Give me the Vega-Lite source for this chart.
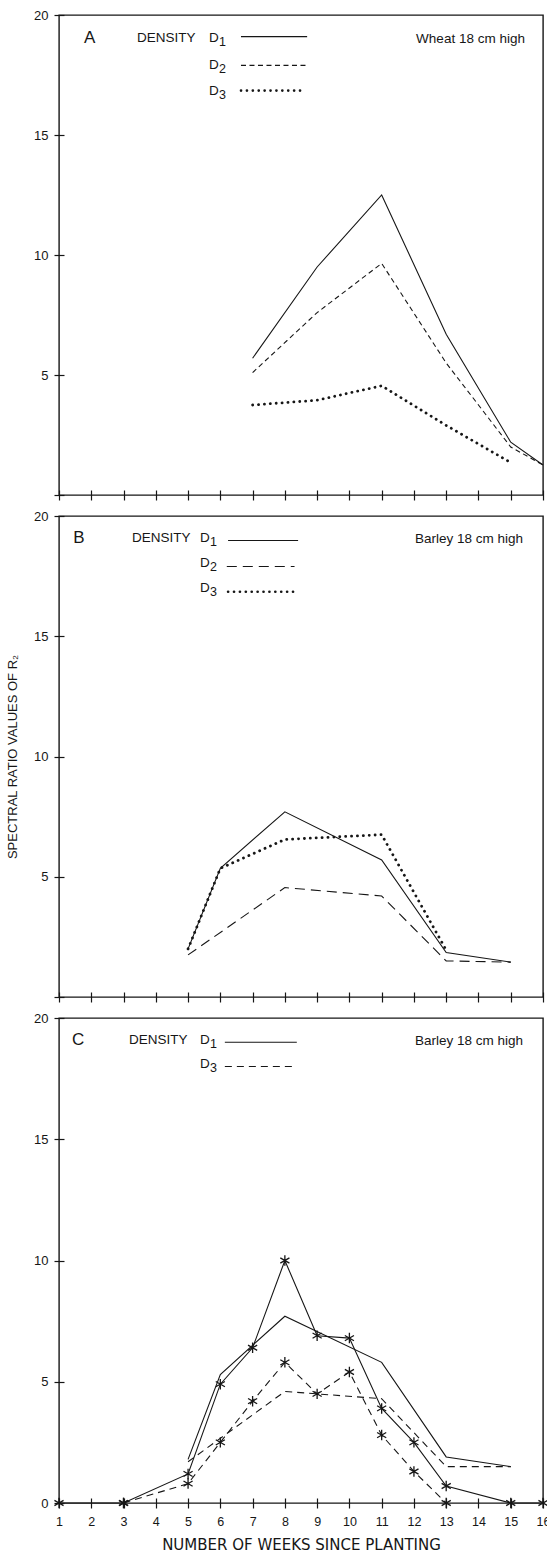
{
  "$schema": "https://vega.github.io/schema/vega-lite/v6.json",
  "background": "white",
  "padding": {"left": 5, "top": 8, "right": 0, "bottom": 0},
  "bounds": "flush",
  "spacing": 21,
  "config": {
    "font": "Liberation Sans",
    "view": {"stroke": "#161616", "strokeWidth": 1.4},
    "axis": {
      "domain": false, "grid": false, "offset": -5, "tickSize": 10, "tickColor": "#161616", "tickWidth": 1.2,
      "labelColor": "#161616", "labelFontSize": 13, "labelFont": "Liberation Sans", "labelOverlap": false,
      "titleColor": "#161616", "titleFont": "Liberation Sans", "titleFontWeight": "normal"
    },
    "text": {"color": "#161616", "font": "Liberation Sans"},
    "line": {"color": "#161616"},
    "rule": {"color": "#161616"}
  },
  "resolve": {"scale": {"x": "independent", "y": "independent"}},
  "datasets": {
    "wheat": [
      {"density": "D1", "week": 7, "value": 5.7}, {"density": "D1", "week": 9, "value": 9.5}, {"density": "D1", "week": 11, "value": 12.5}, {"density": "D1", "week": 13, "value": 6.7}, {"density": "D1", "week": 15, "value": 2.2}, {"density": "D1", "week": 16, "value": 1.25},
      {"density": "D2", "week": 7, "value": 5.1}, {"density": "D2", "week": 9, "value": 7.6}, {"density": "D2", "week": 11, "value": 9.65}, {"density": "D2", "week": 13, "value": 5.5}, {"density": "D2", "week": 15, "value": 2.0}, {"density": "D2", "week": 16, "value": 1.25},
      {"density": "D3", "week": 7, "value": 3.75}, {"density": "D3", "week": 9, "value": 3.95}, {"density": "D3", "week": 11, "value": 4.55}, {"density": "D3", "week": 13, "value": 2.9}, {"density": "D3", "week": 15, "value": 1.35}
    ],
    "barley": [
      {"density": "D1", "week": 5, "value": 2.0}, {"density": "D1", "week": 6, "value": 5.35}, {"density": "D1", "week": 8, "value": 7.7}, {"density": "D1", "week": 11, "value": 5.7}, {"density": "D1", "week": 13, "value": 1.85}, {"density": "D1", "week": 15, "value": 1.45},
      {"density": "D2", "week": 5, "value": 1.75}, {"density": "D2", "week": 8, "value": 4.55}, {"density": "D2", "week": 11, "value": 4.2}, {"density": "D2", "week": 13, "value": 1.5}, {"density": "D2", "week": 15, "value": 1.45},
      {"density": "D3", "week": 5, "value": 2.0}, {"density": "D3", "week": 6, "value": 5.35}, {"density": "D3", "week": 8, "value": 6.55}, {"density": "D3", "week": 11, "value": 6.75}, {"density": "D3", "week": 13, "value": 1.95}
    ],
    "barleyC": [
      {"density": "D1", "obs": "mean", "week": 5, "value": 1.8}, {"density": "D1", "obs": "mean", "week": 6, "value": 5.3}, {"density": "D1", "obs": "mean", "week": 8, "value": 7.7}, {"density": "D1", "obs": "mean", "week": 11, "value": 5.8}, {"density": "D1", "obs": "mean", "week": 13, "value": 1.9}, {"density": "D1", "obs": "mean", "week": 15, "value": 1.5},
      {"density": "D3", "obs": "mean", "week": 5, "value": 1.7}, {"density": "D3", "obs": "mean", "week": 8, "value": 4.6}, {"density": "D3", "obs": "mean", "week": 11, "value": 4.3}, {"density": "D3", "obs": "mean", "week": 13, "value": 1.5}, {"density": "D3", "obs": "mean", "week": 15, "value": 1.5},
      {"density": "D1", "obs": "plot", "week": 1, "value": 0}, {"density": "D1", "obs": "plot", "week": 3, "value": 0}, {"density": "D1", "obs": "plot", "week": 5, "value": 1.2}, {"density": "D1", "obs": "plot", "week": 6, "value": 4.9}, {"density": "D1", "obs": "plot", "week": 7, "value": 6.4}, {"density": "D1", "obs": "plot", "week": 8, "value": 10.0}, {"density": "D1", "obs": "plot", "week": 9, "value": 6.9}, {"density": "D1", "obs": "plot", "week": 10, "value": 6.8}, {"density": "D1", "obs": "plot", "week": 11, "value": 3.9}, {"density": "D1", "obs": "plot", "week": 12, "value": 2.5}, {"density": "D1", "obs": "plot", "week": 13, "value": 0.7}, {"density": "D1", "obs": "plot", "week": 15, "value": 0}, {"density": "D1", "obs": "plot", "week": 16, "value": 0},
      {"density": "D3", "obs": "plot", "week": 3, "value": 0}, {"density": "D3", "obs": "plot", "week": 5, "value": 0.8}, {"density": "D3", "obs": "plot", "week": 6, "value": 2.5}, {"density": "D3", "obs": "plot", "week": 7, "value": 4.2}, {"density": "D3", "obs": "plot", "week": 8, "value": 5.8}, {"density": "D3", "obs": "plot", "week": 9, "value": 4.5}, {"density": "D3", "obs": "plot", "week": 10, "value": 5.4}, {"density": "D3", "obs": "plot", "week": 11, "value": 2.8}, {"density": "D3", "obs": "plot", "week": 12, "value": 1.3}, {"density": "D3", "obs": "plot", "week": 13, "value": 0}
    ]
  },
  "vconcat": [
    {
      "width": 484, "height": 480,
      "layer": [
        {
          "data": {"name": "wheat"},
          "transform": [{"filter": "datum.density == 'D1'"}],
          "mark": {"type": "line", "strokeWidth": 1.1},
          "encoding": {
            "x": {"field": "week", "type": "quantitative", "scale": {"domain": [1, 16], "nice": false, "zero": false}, "axis": {"values": [1,2,3,4,5,6,7,8,9,10,11,12,13,14,15,16], "tickCount": 20, "labels": false, "title": null}},
            "y": {"field": "value", "type": "quantitative", "scale": {"domain": [0, 20], "nice": false}, "axis": {"values": [0,5,10,15,20], "labelExpr": "datum.value == 0 ? '' : datum.label", "labelPadding": 6, "title": null}}
          }
        },
        {
          "data": {"name": "wheat"},
          "transform": [{"filter": "datum.density == 'D2'"}],
          "mark": {"type": "line", "strokeWidth": 1.1, "strokeDash": [5, 3.5]},
          "encoding": {"x": {"field": "week", "type": "quantitative"}, "y": {"field": "value", "type": "quantitative"}}
        },
        {
          "data": {"name": "wheat"},
          "transform": [{"filter": "datum.density == 'D3'"}],
          "mark": {"type": "line", "strokeWidth": 2.8, "strokeDash": [0.1, 5.8], "strokeCap": "round"},
          "encoding": {"x": {"field": "week", "type": "quantitative"}, "y": {"field": "value", "type": "quantitative"}}
        },
        {"data": {"values": [{}]}, "mark": {"type": "text", "text": "A", "fontSize": 17, "align": "center", "baseline": "middle"}, "encoding": {"x": {"datum": 1.95, "type": "quantitative"}, "y": {"datum": 19.05, "type": "quantitative"}}},
        {"data": {"values": [{}]}, "mark": {"type": "text", "text": "DENSITY", "fontSize": 13.5, "align": "left", "baseline": "middle"}, "encoding": {"x": {"datum": 3.42, "type": "quantitative"}, "y": {"datum": 19.05, "type": "quantitative"}}},
        {"data": {"values": [{}]}, "mark": {"type": "text", "text": "D", "fontSize": 13.5, "align": "left", "baseline": "middle"}, "encoding": {"x": {"datum": 5.65, "type": "quantitative"}, "y": {"datum": 19.05, "type": "quantitative"}}},
        {"data": {"values": [{}]}, "mark": {"type": "text", "text": "1", "fontSize": 12.5, "align": "left", "baseline": "middle", "dy": 4}, "encoding": {"x": {"datum": 5.96, "type": "quantitative"}, "y": {"datum": 19.05, "type": "quantitative"}}},
        {"data": {"values": [{}]}, "mark": {"type": "text", "text": "D", "fontSize": 13.5, "align": "left", "baseline": "middle"}, "encoding": {"x": {"datum": 5.65, "type": "quantitative"}, "y": {"datum": 17.9, "type": "quantitative"}}},
        {"data": {"values": [{}]}, "mark": {"type": "text", "text": "2", "fontSize": 12.5, "align": "left", "baseline": "middle", "dy": 4}, "encoding": {"x": {"datum": 5.96, "type": "quantitative"}, "y": {"datum": 17.9, "type": "quantitative"}}},
        {"data": {"values": [{}]}, "mark": {"type": "text", "text": "D", "fontSize": 13.5, "align": "left", "baseline": "middle"}, "encoding": {"x": {"datum": 5.65, "type": "quantitative"}, "y": {"datum": 16.85, "type": "quantitative"}}},
        {"data": {"values": [{}]}, "mark": {"type": "text", "text": "3", "fontSize": 12.5, "align": "left", "baseline": "middle", "dy": 4}, "encoding": {"x": {"datum": 5.96, "type": "quantitative"}, "y": {"datum": 16.85, "type": "quantitative"}}},
        {"data": {"values": [{}]}, "mark": {"type": "rule", "strokeWidth": 1.1}, "encoding": {"x": {"datum": 6.64, "type": "quantitative"}, "x2": {"datum": 8.69}, "y": {"datum": 19.1, "type": "quantitative"}}},
        {"data": {"values": [{}]}, "mark": {"type": "rule", "strokeWidth": 1.1, "strokeDash": [5, 3.5]}, "encoding": {"x": {"datum": 6.64, "type": "quantitative"}, "x2": {"datum": 8.69}, "y": {"datum": 17.9, "type": "quantitative"}}},
        {"data": {"values": [{}]}, "mark": {"type": "rule", "strokeWidth": 2.6, "strokeDash": [0.1, 5.8], "strokeCap": "round"}, "encoding": {"x": {"datum": 6.64, "type": "quantitative"}, "x2": {"datum": 8.6}, "y": {"datum": 16.85, "type": "quantitative"}}},
        {"data": {"values": [{}]}, "mark": {"type": "text", "text": "Wheat  18 cm high", "fontSize": 13.5, "align": "right", "baseline": "middle"}, "encoding": {"x": {"datum": 15.44, "type": "quantitative"}, "y": {"datum": 19.0, "type": "quantitative"}}}
      ]
    },
    {
      "width": 484, "height": 481,
      "layer": [
        {
          "data": {"name": "barley"},
          "transform": [{"filter": "datum.density == 'D1'"}],
          "mark": {"type": "line", "strokeWidth": 1.1},
          "encoding": {
            "x": {"field": "week", "type": "quantitative", "scale": {"domain": [1, 16], "nice": false, "zero": false}, "axis": {"values": [1,2,3,4,5,6,7,8,9,10,11,12,13,14,15,16], "tickCount": 20, "labels": false, "title": null}},
            "y": {"field": "value", "type": "quantitative", "scale": {"domain": [0, 20], "nice": false}, "axis": {"values": [0,5,10,15,20], "labelExpr": "datum.value == 0 ? '' : datum.label", "labelPadding": 6, "title": "SPECTRAL RATIO VALUES OF R₂", "titleFontSize": 13, "titlePadding": 14}}
          }
        },
        {
          "data": {"name": "barley"},
          "transform": [{"filter": "datum.density == 'D2'"}],
          "mark": {"type": "line", "strokeWidth": 1.1, "strokeDash": [10, 6]},
          "encoding": {"x": {"field": "week", "type": "quantitative"}, "y": {"field": "value", "type": "quantitative"}}
        },
        {
          "data": {"name": "barley"},
          "transform": [{"filter": "datum.density == 'D3'"}],
          "mark": {"type": "line", "strokeWidth": 2.8, "strokeDash": [0.1, 5.8], "strokeCap": "round"},
          "encoding": {"x": {"field": "week", "type": "quantitative"}, "y": {"field": "value", "type": "quantitative"}}
        },
        {"data": {"values": [{}]}, "mark": {"type": "text", "text": "B", "fontSize": 17, "align": "center", "baseline": "middle"}, "encoding": {"x": {"datum": 1.62, "type": "quantitative"}, "y": {"datum": 19.1, "type": "quantitative"}}},
        {"data": {"values": [{}]}, "mark": {"type": "text", "text": "DENSITY", "fontSize": 13.5, "align": "left", "baseline": "middle"}, "encoding": {"x": {"datum": 3.26, "type": "quantitative"}, "y": {"datum": 19.1, "type": "quantitative"}}},
        {"data": {"values": [{}]}, "mark": {"type": "text", "text": "D", "fontSize": 13.5, "align": "left", "baseline": "middle"}, "encoding": {"x": {"datum": 5.37, "type": "quantitative"}, "y": {"datum": 19.1, "type": "quantitative"}}},
        {"data": {"values": [{}]}, "mark": {"type": "text", "text": "1", "fontSize": 12.5, "align": "left", "baseline": "middle", "dy": 4}, "encoding": {"x": {"datum": 5.68, "type": "quantitative"}, "y": {"datum": 19.1, "type": "quantitative"}}},
        {"data": {"values": [{}]}, "mark": {"type": "text", "text": "D", "fontSize": 13.5, "align": "left", "baseline": "middle"}, "encoding": {"x": {"datum": 5.37, "type": "quantitative"}, "y": {"datum": 18.05, "type": "quantitative"}}},
        {"data": {"values": [{}]}, "mark": {"type": "text", "text": "2", "fontSize": 12.5, "align": "left", "baseline": "middle", "dy": 4}, "encoding": {"x": {"datum": 5.68, "type": "quantitative"}, "y": {"datum": 18.05, "type": "quantitative"}}},
        {"data": {"values": [{}]}, "mark": {"type": "text", "text": "D", "fontSize": 13.5, "align": "left", "baseline": "middle"}, "encoding": {"x": {"datum": 5.37, "type": "quantitative"}, "y": {"datum": 17.0, "type": "quantitative"}}},
        {"data": {"values": [{}]}, "mark": {"type": "text", "text": "3", "fontSize": 12.5, "align": "left", "baseline": "middle", "dy": 4}, "encoding": {"x": {"datum": 5.68, "type": "quantitative"}, "y": {"datum": 17.0, "type": "quantitative"}}},
        {"data": {"values": [{}]}, "mark": {"type": "rule", "strokeWidth": 1.1}, "encoding": {"x": {"datum": 6.24, "type": "quantitative"}, "x2": {"datum": 8.41}, "y": {"datum": 18.98, "type": "quantitative"}}},
        {"data": {"values": [{}]}, "mark": {"type": "rule", "strokeWidth": 1.1, "strokeDash": [10, 6]}, "encoding": {"x": {"datum": 6.2, "type": "quantitative"}, "x2": {"datum": 8.3}, "y": {"datum": 17.9, "type": "quantitative"}}},
        {"data": {"values": [{}]}, "mark": {"type": "rule", "strokeWidth": 2.6, "strokeDash": [0.1, 5.8], "strokeCap": "round"}, "encoding": {"x": {"datum": 6.24, "type": "quantitative"}, "x2": {"datum": 8.41}, "y": {"datum": 16.85, "type": "quantitative"}}},
        {"data": {"values": [{}]}, "mark": {"type": "text", "text": "Barley  18 cm high", "fontSize": 13.5, "align": "right", "baseline": "middle"}, "encoding": {"x": {"datum": 15.38, "type": "quantitative"}, "y": {"datum": 19.05, "type": "quantitative"}}}
      ]
    },
    {
      "width": 484, "height": 485,
      "layer": [
        {
          "data": {"name": "barleyC"},
          "transform": [{"filter": "datum.density == 'D1'"}],
          "mark": {"type": "line", "strokeWidth": 1.1},
          "encoding": {
            "x": {"field": "week", "type": "quantitative", "scale": {"domain": [1, 16], "nice": false, "zero": false}, "axis": {"values": [1,2,3,4,5,6,7,8,9,10,11,12,13,14,15,16], "tickCount": 20, "labelPadding": 7, "labelFontSize": 12.5, "labelFlush": false, "title": "NUMBER OF WEEKS SINCE PLANTING", "titleFont": "DejaVu Sans", "titleFontSize": 15, "titlePadding": 10}},
            "y": {"field": "value", "type": "quantitative", "scale": {"domain": [0, 20], "nice": false}, "axis": {"values": [0,5,10,15,20], "labelPadding": 6, "title": null}},
            "detail": {"field": "obs"}
          }
        },
        {
          "data": {"name": "barleyC"},
          "transform": [{"filter": "datum.density == 'D3'"}],
          "mark": {"type": "line", "strokeWidth": 1.1, "strokeDash": [7, 5]},
          "encoding": {"x": {"field": "week", "type": "quantitative"}, "y": {"field": "value", "type": "quantitative"}, "detail": {"field": "obs"}}
        },
        {
          "data": {"name": "barleyC"},
          "transform": [{"filter": "datum.obs == 'plot'"}],
          "mark": {"type": "point", "shape": "M0,-1L0,1M-0.87,-0.5L0.87,0.5M-0.87,0.5L0.87,-0.5", "filled": false, "size": 110, "stroke": "#161616", "strokeWidth": 1.3, "opacity": 1},
          "encoding": {"x": {"field": "week", "type": "quantitative"}, "y": {"field": "value", "type": "quantitative"}}
        },
        {"data": {"values": [{}]}, "mark": {"type": "text", "text": "C", "fontSize": 17, "align": "center", "baseline": "middle"}, "encoding": {"x": {"datum": 1.59, "type": "quantitative"}, "y": {"datum": 19.1, "type": "quantitative"}}},
        {"data": {"values": [{}]}, "mark": {"type": "text", "text": "DENSITY", "fontSize": 13.5, "align": "left", "baseline": "middle"}, "encoding": {"x": {"datum": 3.17, "type": "quantitative"}, "y": {"datum": 19.1, "type": "quantitative"}}},
        {"data": {"values": [{}]}, "mark": {"type": "text", "text": "D", "fontSize": 13.5, "align": "left", "baseline": "middle"}, "encoding": {"x": {"datum": 5.37, "type": "quantitative"}, "y": {"datum": 19.1, "type": "quantitative"}}},
        {"data": {"values": [{}]}, "mark": {"type": "text", "text": "1", "fontSize": 12.5, "align": "left", "baseline": "middle", "dy": 4}, "encoding": {"x": {"datum": 5.68, "type": "quantitative"}, "y": {"datum": 19.1, "type": "quantitative"}}},
        {"data": {"values": [{}]}, "mark": {"type": "text", "text": "D", "fontSize": 13.5, "align": "left", "baseline": "middle"}, "encoding": {"x": {"datum": 5.37, "type": "quantitative"}, "y": {"datum": 18.1, "type": "quantitative"}}},
        {"data": {"values": [{}]}, "mark": {"type": "text", "text": "3", "fontSize": 12.5, "align": "left", "baseline": "middle", "dy": 4}, "encoding": {"x": {"datum": 5.68, "type": "quantitative"}, "y": {"datum": 18.1, "type": "quantitative"}}},
        {"data": {"values": [{}]}, "mark": {"type": "rule", "strokeWidth": 1.1}, "encoding": {"x": {"datum": 6.14, "type": "quantitative"}, "x2": {"datum": 8.37}, "y": {"datum": 19.0, "type": "quantitative"}}},
        {"data": {"values": [{}]}, "mark": {"type": "rule", "strokeWidth": 1.1, "strokeDash": [7, 5]}, "encoding": {"x": {"datum": 6.14, "type": "quantitative"}, "x2": {"datum": 8.37}, "y": {"datum": 18.0, "type": "quantitative"}}},
        {"data": {"values": [{}]}, "mark": {"type": "text", "text": "Barley  18 cm high", "fontSize": 13.5, "align": "right", "baseline": "middle"}, "encoding": {"x": {"datum": 15.38, "type": "quantitative"}, "y": {"datum": 19.05, "type": "quantitative"}}}
      ]
    }
  ]
}
